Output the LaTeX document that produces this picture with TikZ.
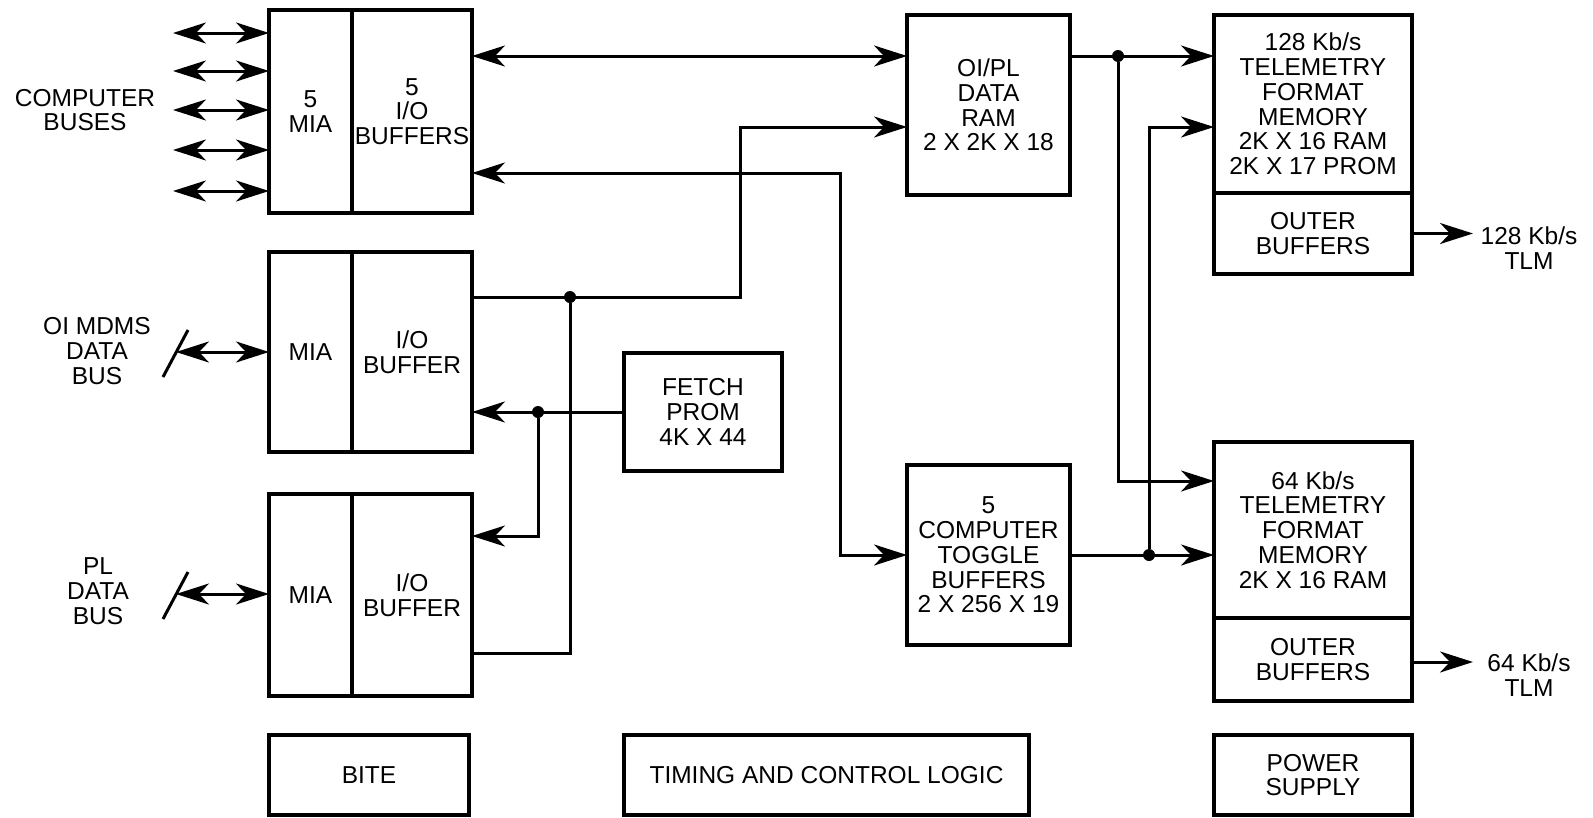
\documentclass[tikz,border=0pt]{standalone}
\usepackage{fontspec}
\setmainfont{Liberation Sans}
\usetikzlibrary{arrows.meta,calc}
\tikzset{
  font=\fontsize{24.5}{24.8}\selectfont,
  box/.style={draw=black, line width=3.4pt, fill=white, align=center, inner sep=0pt, outer sep=0pt, anchor=north west},
  wire/.style={line width=3pt},
  arrow/.style={-{Stealth[length=33pt,width=21pt,inset=10pt]}, line width=3pt},
  dblarrow/.style={{Stealth[length=33pt,width=21pt,inset=10pt]}-{Stealth[length=33pt,width=21pt,inset=10pt]}, line width=3pt},
  dot/.style={circle, fill=black, inner sep=0pt, minimum size=12pt},
  buslabel/.style={align=center, inner sep=2pt},
  slash/.style={line width=3pt}
}

\begin{document}
\begin{tikzpicture}[x=1pt,y=1pt]
\useasboundingbox (0,0) rectangle (1593,-817);

% MIA / I/O buffer column
\node[box, minimum width=83pt, minimum height=203pt] (mia1) at (269,-10) {5\\MIA};
\node[box, minimum width=120pt, minimum height=203pt] (io1) at (352,-10) {5\\I/O\\BUFFERS};
\node[box, minimum width=83pt, minimum height=200pt] (mia2) at (269,-252) {MIA};
\node[box, minimum width=120pt, minimum height=200pt] (io2) at (352,-252) {I/O\\BUFFER};
\node[box, minimum width=83pt, minimum height=202pt] (mia3) at (269,-494) {MIA};
\node[box, minimum width=120pt, minimum height=202pt] (io3) at (352,-494) {I/O\\BUFFER};

% Middle blocks
\node[box, minimum width=158pt, minimum height=118pt] (fetch) at (624,-353) {FETCH\\PROM\\4K X 44};
\node[box, minimum width=163pt, minimum height=180pt] (oipl) at (907,-15) {OI/PL\\DATA\\RAM\\2 X 2K X 18};
\node[box, minimum width=163pt, minimum height=180pt] (toggle) at (907,-465) {5\\COMPUTER\\TOGGLE\\BUFFERS\\2 X 256 X 19};

% Telemetry format memories
\node[box, minimum width=198pt, minimum height=178pt] (tm1) at (1214,-15) {128 Kb/s\\TELEMETRY\\FORMAT\\MEMORY\\2K X 16 RAM\\2K X 17 PROM};
\node[box, minimum width=198pt, minimum height=81pt] (ob1) at (1214,-193) {OUTER\\BUFFERS};
\node[box, minimum width=198pt, minimum height=176pt] (tm2) at (1214,-442) {64 Kb/s\\TELEMETRY\\FORMAT\\MEMORY\\2K X 16 RAM};
\node[box, minimum width=198pt, minimum height=83pt] (ob2) at (1214,-618) {OUTER\\BUFFERS};

% Bottom row
\node[box, minimum width=200pt, minimum height=80pt] (bite) at (269,-735) {BITE};
\node[box, minimum width=405pt, minimum height=80pt] (timing) at (624,-735) {TIMING AND CONTROL LOGIC};
\node[box, minimum width=198pt, minimum height=80pt] (power) at (1214,-735) {POWER\\SUPPLY};

% Outside labels
\node[buslabel] (cbuses) at (85,-110) {COMPUTER\\BUSES};
\node[buslabel] (oilabel) at (97,-351) {OI MDMS\\DATA\\BUS};
\node[buslabel] (pllabel) at (98,-591) {PL\\DATA\\BUS};
\node[buslabel] (tlm1) at (1529,-248) {128 Kb/s\\TLM};
\node[buslabel] (tlm2) at (1529,-675) {64 Kb/s\\TLM};

% Computer buses
\foreach \y in {33,71,110,150,191} {
  \coordinate (bus\y) at (173,-\y);
  \draw[dblarrow] (bus\y) -- (bus\y -| mia1.west);
}

% Data buses with slash
\coordinate (oibus) at (176,-352);
\coordinate (plbus) at (176,-594);
\draw[slash] ($(oibus)+(-13,-25)$) -- ($(oibus)+(12,22)$);
\draw[slash] ($(plbus)+(-13,-25)$) -- ($(plbus)+(12,22)$);
\draw[dblarrow] (oibus) -- (oibus -| mia2.west);
\draw[dblarrow] (plbus) -- (plbus -| mia3.west);

% Junction dots
\node[dot] (j1) at (570,-297) {};
\node[dot] (j2) at (538,-412) {};
\node[dot] (j3) at (1118,-56) {};
\node[dot] (j4) at (1149,-555) {};

% Connections
\draw[dblarrow] (io1.east |- j3) -- (oipl.west |- j3);
\draw[dblarrow] (io1.east |- 0,-173) -- ++(368,0) |- (toggle.west);
\draw[arrow] (io2.east |- j1) -- ++(268,0) |- (oipl.west |- 0,-127);
\draw[wire] (j1) |- (io3.east |- 0,-653);
\draw[arrow] (fetch.west) -- (io2.east |- fetch.west);
\draw[arrow] (j2) |- (io3.east |- 0,-536);
\draw[arrow] (oipl.east |- j3) -- (tm1.west |- j3);
\draw[arrow] (j3) |- (tm2.west |- 0,-481);
\draw[arrow] (toggle.east) -- (tm2.west |- toggle.east);
\draw[arrow] (j4) |- (tm1.west |- 0,-127);
\draw[arrow] (ob1.east) -- ++(61,0);
\draw[arrow] (ob2.east |- 0,-662) -- ++(61,0);

\end{tikzpicture}
\end{document}
